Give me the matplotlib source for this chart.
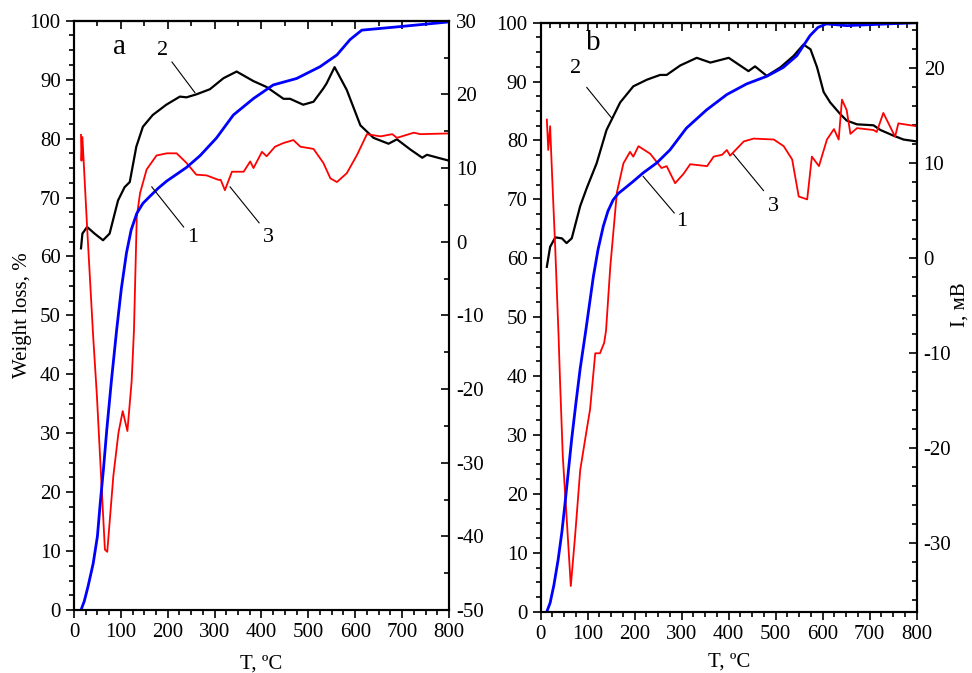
import matplotlib
matplotlib.use("Agg")
import matplotlib.pyplot as plt
from matplotlib.ticker import MultipleLocator

plt.rcParams['font.family'] = ['Liberation Serif', 'DejaVu Serif']
plt.rcParams['axes.unicode_minus'] = False

# ---- панель a ----
# 1 - потеря массы (левая ось)
a_tg_t = [15, 22, 30, 41, 50, 56, 63, 70, 80, 91, 101, 112, 122, 134, 147, 162, 180, 198, 220, 240, 269, 304, 340,
          383, 425, 475, 525, 561, 589, 614, 695, 800]
a_tg = [0, 1.5, 4.0, 7.9, 12.5, 18.1, 24.0, 30.6, 39.0, 47.5, 54.5, 60.6, 64.5, 67.3, 69.0, 70.2, 71.6, 72.8, 74.0,
        75.1, 77.1, 80.1, 84.0, 86.8, 89.1, 90.2, 92.2, 94.2, 96.8, 98.4, 99.0, 99.8]
# 2 - чёрная кривая (правая ось)
a_k_t = [15, 18, 28, 44, 62, 76, 94, 108, 119, 133, 147, 168, 197, 226, 240, 261, 290, 319, 347, 383, 411, 447, 461,
         489, 511, 532, 539, 556, 582, 611, 639, 671, 689, 718, 743, 753, 800]
a_k = [-0.9, 1.1, 2.0, 1.1, 0.2, 1.1, 5.6, 7.4, 8.1, 12.9, 15.6, 17.2, 18.6, 19.7, 19.6, 20.0, 20.7, 22.2, 23.1, 21.8,
       21.0, 19.4, 19.4, 18.6, 19.0, 20.8, 21.5, 23.7, 20.6, 15.8, 14.1, 13.3, 13.9, 12.5, 11.4, 11.8, 11.0]
# 3 - красная кривая (правая ось)
a_r_t = [15, 16, 18, 28, 41, 49, 56, 66, 71, 84, 95, 104, 114, 123, 128, 134, 141, 155, 176, 198, 219, 240, 261, 283,
         308, 313, 322, 337, 362, 376, 383, 401, 411, 429, 447, 468, 483, 511, 532, 547, 561, 582, 604, 625, 654, 679,
         689, 725, 739, 800]
a_r = [14.5, 11.0, 14.2, 2.0, -12.9, -21.0, -29.6, -41.8, -42.1, -31.8, -25.9, -23.0, -25.7, -19.0, -12.0, 3.4, 6.6,
       9.8, 11.7, 12.0, 12.0, 10.7, 9.1, 9.0, 8.4, 8.4, 7.0, 9.5, 9.5, 10.9, 10.0, 12.2, 11.6, 12.9, 13.4, 13.8, 12.9,
       12.6, 10.7, 8.6, 8.1, 9.3, 11.8, 14.6, 14.3, 14.6, 14.1, 14.8, 14.6, 14.7]

# ---- панель b ----
b_tg_t = [13, 20, 28, 37, 45, 52, 59, 66, 75, 84, 96, 112, 122, 133, 143, 154, 165, 176, 196, 218, 247, 275, 310,
          353, 396, 438, 481, 516, 545, 573, 590, 608, 651, 800]
b_tg = [0, 1.5, 4.5, 8.8, 13.5, 18.6, 24.0, 29.4, 35.5, 41.3, 47.8, 56.9, 61.5, 65.4, 68.0, 69.9, 71.0, 71.7, 73.0,
        74.5, 76.2, 78.4, 82.1, 85.2, 87.8, 89.6, 90.9, 92.4, 94.4, 97.8, 99.2, 99.8, 99.5, 100]
b_k_t = [13, 20, 31, 45, 55, 66, 84, 98, 119, 140, 169, 197, 226, 254, 268, 297, 332, 361, 400, 424, 442, 456, 481,
         510, 538, 559, 574, 588, 602, 616, 637, 651, 673, 708, 723, 751, 772, 800]
b_k = [-0.9, 1.2, 2.2, 2.1, 1.6, 2.1, 5.5, 7.4, 10.0, 13.5, 16.4, 18.1, 18.8, 19.3, 19.3, 20.3, 21.1, 20.6, 21.1, 20.3,
       19.7, 20.2, 19.2, 20.1, 21.3, 22.5, 22.0, 20.1, 17.5, 16.4, 15.2, 14.5, 14.1, 14.0, 13.5, 12.9, 12.5, 12.3]
b_r_t = [13, 16, 20, 24, 31, 38, 41, 47, 55, 64, 73, 84, 98, 105, 116, 126, 135, 139, 148, 162, 176, 190, 197, 208,
         233, 257, 268, 286, 304, 318, 354, 368, 386, 396, 403, 432, 453, 496, 517, 535, 549, 567, 577, 592, 609, 624,
         634, 641, 651, 659, 673, 708, 715, 729, 740, 754, 761, 800]
b_r = [14.6, 11.4, 13.9, 9.0, 0.9, -8.2, -12.8, -20.9, -27.2, -34.5, -29.3, -22.3, -18.0, -15.9, -10.0, -10.0, -8.9,
       -7.6, -0.9, 6.9, 10.0, 11.2, 10.7, 11.8, 11.0, 9.5, 9.7, 7.9, 8.9, 9.9, 9.7, 10.7, 10.9, 11.4, 10.8, 12.3, 12.6,
       12.5, 11.8, 10.4, 6.5, 6.2, 10.7, 9.7, 12.5, 13.6, 12.5, 16.7, 15.6, 13.1, 13.7, 13.5, 13.3, 15.3, 14.2, 12.8,
       14.2, 13.9]

fs = 15

fig = plt.figure(figsize=(9.72, 6.73), dpi=100)


def panel(rect, tg_t, tg, k_t, k, r_t, r, rlim, rminor, topminor, letter, marks, xpad):
    ax = fig.add_axes(rect)
    ax2 = ax.twinx()
    ax.set_zorder(ax2.get_zorder() + 1)
    ax.patch.set_visible(False)

    ax2.plot(k_t, k, color='black', lw=1.6)
    ax2.plot(r_t, r, color='red', lw=1.3)
    ax.plot(tg_t, tg, color='blue', lw=2.0)

    ax.set_xlim(0, 800)
    ax.set_ylim(0, 100)
    ax2.set_ylim(*rlim)

    ax.xaxis.set_major_locator(MultipleLocator(100))
    ax.xaxis.set_minor_locator(MultipleLocator(25))
    ax.yaxis.set_major_locator(MultipleLocator(10))
    ax.yaxis.set_minor_locator(MultipleLocator(2.5))
    ax2.yaxis.set_major_locator(MultipleLocator(10))
    ax2.yaxis.set_minor_locator(MultipleLocator(rminor))

    ax.tick_params(which='both', direction='out', labelsize=fs, width=1.2)
    ax.tick_params(which='major', length=6)
    ax.tick_params(which='minor', length=3.5)
    ax2.tick_params(which='both', direction='in', labelsize=fs, width=1.2, pad=5)
    ax2.tick_params(which='major', length=6)
    ax2.tick_params(which='minor', length=3.5)

    # верхняя ось - засечки внутрь
    top = ax.secondary_xaxis('top')
    top.xaxis.set_major_locator(MultipleLocator(100))
    top.xaxis.set_minor_locator(MultipleLocator(topminor))
    top.tick_params(which='both', direction='in', labeltop=False, width=1.2)
    top.tick_params(which='major', length=6)
    top.tick_params(which='minor', length=3.5)

    for a in (ax, ax2, top):
        for s in a.spines.values():
            s.set_linewidth(1.5)

    ax.set_xlabel('T, ºC', fontsize=fs, labelpad=xpad)

    ax.text(letter[0], letter[1], letter[2], fontsize=21, ha='center', va='center')
    for num, tx, ty, x1, y1, x2, y2 in marks:
        ax.text(tx, ty, num, fontsize=16, ha='center', va='center')
        ax.plot([x1, x2], [y1, y2], color='black', lw=0.8)
    return ax, ax2


axa, axa2 = panel([0.0761, 0.0936, 0.3858, 0.8756], a_tg_t, a_tg, a_k_t, a_k, a_r_t, a_r,
                  (-50, 30), 5, 50, (98, 95.5, 'a'),
                  [('2', 190, 95.0, 209, 93.0, 258, 87.8),
                   ('1', 254, 63.2, 234, 65.0, 166, 71.8),
                   ('3', 414, 63.2, 395, 65.7, 333, 71.8)], 9)
axa.set_ylabel('Weight loss, %', fontsize=fs, labelpad=-2)

axb, axb2 = panel([0.5563, 0.0911, 0.3868, 0.8752], b_tg_t, b_tg, b_k_t, b_k, b_r_t, b_r,
                  (-37.2, 24.8), 2, 20, (112, 96.5, 'b'),
                  [('2', 75, 92.3, 98, 89.0, 151, 83.8),
                   ('1', 300, 66.2, 284, 67.7, 218, 73.9),
                   ('3', 495, 68.8, 474, 71.5, 410, 77.7)], 6)
fig.text(0.988, 0.548, 'I, мВ', fontsize=fs, rotation=90, ha='center', va='center')

fig.savefig('out.png', dpi=100)
